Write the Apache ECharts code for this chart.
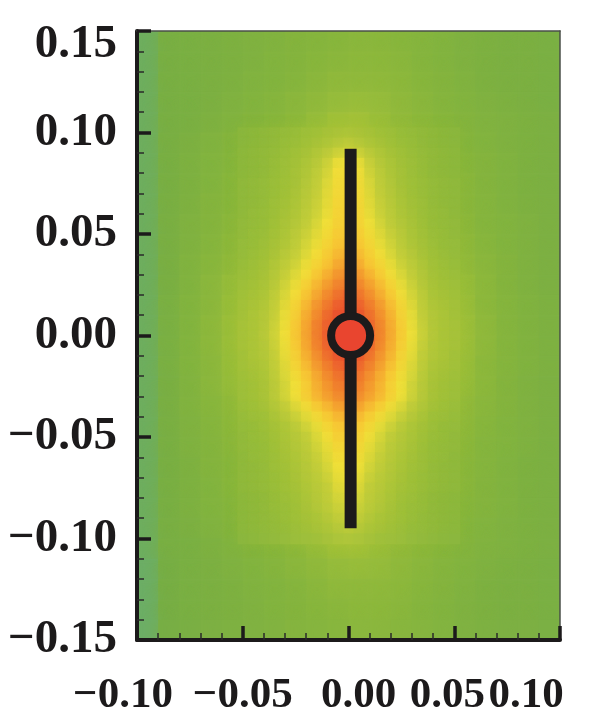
<!DOCTYPE html>
<html><head><meta charset="utf-8">
<script src="https://cdn.jsdelivr.net/npm/echarts@6/dist/echarts.min.js"></script>
<style>html,body{margin:0;padding:0;background:#fff}#c{width:614px;height:715px}</style>
</head><body><div id="c"></div>
<script>
// ---- tick labels ----
const xTickLabels = ['\u22120.10', '\u22120.05', '0.00', '0.05', '0.10'];
const yTickLabels = ['\u22120.15', '\u22120.10', '\u22120.05', '0.00', '0.05', '0.10', '0.15'];

// ---- coarse field (cell centres every 0.01) ----
const xCoarse = [-0.095,-0.085,-0.075,-0.065,-0.055,-0.045,-0.035,-0.025,-0.015,-0.005,0.005,0.015,0.025,0.035,0.045,0.055,0.065,0.075,0.085,0.095];
const yCoarse = [0.145,0.135,0.125,0.115,0.105,0.095,0.085,0.075,0.065,0.055,0.045,0.035,0.025,0.015,0.005,-0.005,-0.015,-0.025,-0.035,-0.045,-0.055,-0.065,-0.075,-0.085,-0.095,-0.105,-0.115,-0.125,-0.135,-0.145];
const coarseField = [
[6,11,12,13,14,15,16,18,19,20,21,21,20,19,17,15,14,13,13,12],
[6,11,12,13,14,15,17,18,20,21,22,22,21,19,17,15,14,13,13,12],
[6,11,12,13,14,16,17,19,21,23,23,23,22,20,18,16,14,13,13,12],
[6,11,12,13,15,17,19,21,23,25,26,25,23,21,19,17,15,14,13,12],
[6,11,12,14,16,18,20,22,25,29,30,27,24,22,20,18,16,15,14,13],
[6,11,13,16,18,20,23,26,29,33,33,29,26,23,21,19,17,15,14,13],
[6,11,14,17,19,21,25,29,35,48,48,35,29,25,22,20,18,16,14,13],
[6,11,14,17,20,22,26,30,38,52,52,38,30,26,23,21,18,16,14,13],
[6,11,14,18,20,23,27,32,40,54,54,40,32,27,24,21,19,16,14,13],
[6,11,15,18,21,24,28,34,44,58,58,44,34,28,25,22,19,17,15,13],
[6,11,15,19,22,25,30,37,48,63,63,48,37,30,26,23,20,17,15,13],
[6,11,16,20,23,27,33,42,55,71,71,55,42,33,28,24,21,18,15,13],
[6,11,16,21,25,29,37,48,64,82,82,64,48,37,30,26,22,18,15,13],
[6,12,17,21,26,30,40,53,72,90,90,72,53,40,31,27,22,19,16,14],
[6,12,17,22,27,32,42,56,76,95,95,76,56,42,33,28,23,19,16,14],
[6,12,17,22,27,32,42,56,76,95,95,76,56,42,33,28,23,19,16,14],
[6,12,17,21,26,30,40,53,72,90,90,72,53,40,31,27,22,19,16,14],
[6,11,16,21,25,29,37,48,64,82,82,64,48,37,30,26,22,18,15,13],
[6,11,16,20,23,27,34,43,57,74,74,57,43,34,28,24,21,18,15,13],
[6,11,15,19,22,25,30,37,47,62,62,47,37,30,26,23,20,17,15,13],
[6,11,15,18,21,24,28,34,43,56,56,43,34,28,25,22,19,17,15,13],
[6,11,14,18,20,23,27,32,39,51,51,39,32,27,24,21,19,16,14,13],
[6,11,14,17,20,22,26,30,36,47,47,36,30,26,23,21,18,16,14,13],
[6,11,14,17,19,21,25,28,33,43,43,33,28,25,22,20,18,16,14,13],
[6,11,13,16,18,20,23,26,29,36,36,29,26,23,21,19,17,15,14,13],
[6,11,12,14,16,18,20,22,25,29,30,27,24,22,20,18,16,15,14,13],
[5,10,12,13,15,17,19,21,23,25,26,25,23,21,19,17,15,14,13,12],
[5,10,12,13,14,16,17,19,21,23,23,23,22,20,18,16,14,13,13,12],
[5,10,12,13,14,15,17,18,20,21,22,22,21,19,17,15,14,13,13,12],
[5,10,11,13,14,15,16,18,19,20,21,21,20,19,17,15,14,13,13,12]
];

// ---- fine field around the source (cell centres every 0.005) ----
const xFine = [-0.05,-0.045,-0.04,-0.035,-0.03,-0.025,-0.02,-0.015,-0.01,-0.005,0,0.005,0.01,0.015,0.02,0.025,0.03,0.035,0.04,0.045,0.05];
const yFine = [0.1,0.095,0.09,0.085,0.08,0.075,0.07,0.065,0.06,0.055,0.05,0.045,0.04,0.035,0.03,0.025,0.02,0.015,0.01,0.005,0,-0.005,-0.01,-0.015,-0.02,-0.025,-0.03,-0.035,-0.04,-0.045,-0.05,-0.055,-0.06,-0.065,-0.07,-0.075,-0.08,-0.085,-0.09,-0.095,-0.1];
const fineField = [
[21,22,23,24,25,26,28,29,31,32,33,32,31,29,28,26,25,24,23,22,21],
[21,22,23,24,26,27,29,31,33,35,37,35,33,31,29,27,26,24,23,22,21],
[22,23,24,25,27,29,31,34,37,41,44,41,37,34,31,29,27,25,24,23,22],
[22,23,24,26,28,30,33,36,41,48,50,48,41,36,33,30,28,26,24,23,22],
[22,23,24,26,28,31,34,38,43,51,53,51,43,38,34,31,28,26,24,23,22],
[23,24,25,27,29,31,35,39,45,52,54,52,45,39,35,31,29,27,25,24,23],
[23,24,25,27,29,32,36,40,46,53,55,53,46,40,36,32,29,27,25,24,23],
[23,24,25,28,30,33,37,41,47,54,56,54,47,41,37,33,30,28,25,24,23],
[23,25,26,28,31,34,38,42,48,55,57,55,48,42,38,34,31,28,26,25,23],
[24,25,26,29,32,35,39,44,50,56,58,56,50,44,39,35,32,29,26,25,24],
[24,26,27,30,33,37,41,46,52,58,60,58,52,46,41,37,33,30,27,26,24],
[25,26,28,31,34,38,43,48,54,60,62,60,54,48,43,38,34,31,28,26,25],
[25,27,29,32,36,40,45,51,57,63,66,63,57,51,45,40,36,32,29,27,25],
[26,28,30,34,38,42,48,54,60,67,70,67,60,54,48,42,38,34,30,28,26],
[27,29,31,35,40,45,51,58,65,72,75,72,65,58,51,45,40,35,31,29,27],
[28,30,32,36,42,48,55,63,70,77,80,77,70,63,55,48,42,36,32,30,28],
[29,31,33,38,44,51,59,67,75,82,86,82,75,67,59,51,44,38,33,31,29],
[30,32,34,39,46,54,63,72,80,87,91,87,80,72,63,54,46,39,34,32,30],
[30,33,35,40,48,56,66,75,84,92,96,92,84,75,66,56,48,40,35,33,30],
[31,33,35,41,49,58,68,78,87,95,99,95,87,78,68,58,49,41,35,33,31],
[31,33,36,42,50,59,69,79,88,96,100,96,88,79,69,59,50,42,36,33,31],
[31,33,35,41,49,58,68,78,87,95,99,95,87,78,68,58,49,41,35,33,31],
[30,33,35,40,48,56,66,75,84,92,96,92,84,75,66,56,48,40,35,33,30],
[30,32,34,39,46,54,63,72,80,87,91,87,80,72,63,54,46,39,34,32,30],
[29,31,33,38,45,52,60,68,76,83,87,83,76,68,60,52,45,38,33,31,29],
[28,30,32,37,43,50,57,66,73,80,83,80,73,66,57,50,43,37,32,30,28],
[28,30,32,37,43,50,57,65,71,77,80,77,71,65,57,50,43,37,32,30,28],
[27,29,31,35,40,46,52,59,65,71,74,71,65,59,52,46,40,35,31,29,27],
[26,28,29,33,37,42,47,53,59,65,68,65,59,53,47,42,37,33,29,28,26],
[25,26,28,31,34,38,43,48,54,60,63,60,54,48,43,38,34,31,28,26,25],
[24,26,27,30,33,36,40,45,51,57,59,57,51,45,40,36,33,30,27,26,24],
[24,25,26,29,32,35,38,43,48,54,56,54,48,43,38,35,32,29,26,25,24],
[23,25,26,28,31,34,37,41,46,52,54,52,46,41,37,34,31,28,26,25,23],
[23,24,25,28,30,33,36,40,44,50,52,50,44,40,36,33,30,28,25,24,23],
[23,24,25,27,29,32,35,38,42,48,50,48,42,38,35,32,29,27,25,24,23],
[23,24,25,27,29,31,34,37,40,46,48,46,40,37,34,31,29,27,25,24,23],
[22,23,24,26,28,30,33,36,39,44,46,44,39,36,33,30,28,26,24,23,22],
[22,23,24,26,27,29,32,35,38,42,44,42,38,35,32,29,27,26,24,23,22],
[22,23,24,25,27,29,31,33,36,40,42,40,36,33,31,29,27,25,24,23,22],
[22,23,24,25,26,28,30,32,34,37,39,37,34,32,30,28,26,25,24,23,22],
[21,22,23,24,25,27,28,29,31,33,34,33,31,29,28,27,25,24,23,22,21]
];

// ---- conductor (vertical bar) and source (circle) ----
const stemX = [0.001, 0.001];
const stemY = [0.092, -0.095];
const sourceX = [0.001];
const sourceY = [0];

// ---- build data ----
function cells(xs, ys, rows) {
  const out = [];
  for (let r = 0; r < ys.length; r++)
    for (let c = 0; c < xs.length; c++) out.push([xs[c], ys[r], rows[r][c]]);
  return out;
}
const coarseData = cells(xCoarse, yCoarse, coarseField);
const fineData = cells(xFine, yFine, fineField);

function cellRenderer(hx, hy, blur) {
  return function (params, api) {
    const x = api.value(0), y = api.value(1);
    const a = api.coord([x - hx, y + hy]);
    const b = api.coord([x + hx, y - hy]);
    const col = api.visual('color');
    return {
      type: 'rect',
      shape: { x: a[0], y: a[1], width: b[0] - a[0] + 0.7, height: b[1] - a[1] + 0.7 },
      style: { fill: col, shadowBlur: blur, shadowColor: col }
    };
  };
}

const FONT = "'Liberation Serif', 'Times New Roman', serif";
const INK = '#1c1a1b';
const xShift = [{ padding: [0, 28, 0, 0] }, { padding: 0 }, { padding: [0, 0, 0, 20] }, { padding: [0, 14, 0, 0] }, { padding: [0, 68, 0, 0] }];
const xRich = {};
xShift.forEach((s, i) => { xRich['s' + i] = Object.assign({ fontFamily: FONT, fontWeight: 'bold', fontSize: 43, color: INK, lineHeight: 43 }, s); });
const yRich = {
  n: { fontFamily: FONT, fontWeight: 'bold', fontSize: 47, color: INK, lineHeight: 47 },
  t: { fontFamily: FONT, fontWeight: 'bold', fontSize: 47, color: INK, lineHeight: 47, padding: [28, 0, 0, 0] }
};
const gridBox = { left: 137, right: 54, top: 31, bottom: 75, containLabel: false, outerBoundsMode: 'none' };

const chart = echarts.init(document.getElementById('c'), null, { renderer: 'canvas' });
chart.setOption({
  animation: false,
  backgroundColor: '#ffffff',
  grid: [Object.assign({}, gridBox), Object.assign({}, gridBox)],
  visualMap: {
    show: false, type: 'continuous', min: 0, max: 100, dimension: 2, seriesIndex: [0, 1],
    inRange: { color: ['#62ae86', '#78ae45', '#88b63e', '#a3c13b', '#c2cd3c', '#f0e03b', '#f7c837', '#f4a332', '#f07f30', '#eb5a31', '#e8452f'] }
  },
  xAxis: [{
    gridIndex: 0, type: 'value', position: 'bottom', min: -0.1, max: 0.1, interval: 0.05, z: 10,
    axisLine: { show: true, onZero: false, lineStyle: { color: INK, width: 4 } },
    axisTick: { show: true, inside: true, length: 14, lineStyle: { color: INK, width: 3.5 } },
    minorTick: { show: true, splitNumber: 5, length: 7, lineStyle: { color: '#2a2a2a', width: 1.5 } },
    splitLine: { show: false }, axisLabel: { show: false }
  }, {
    gridIndex: 0, type: 'value', position: 'top', min: -0.1, max: 0.1, z: 10,
    axisLine: { show: true, onZero: false, lineStyle: { color: '#4a4f48', width: 1.5 } },
    axisTick: { show: false }, axisLabel: { show: false }, splitLine: { show: false }
  }, {
    gridIndex: 1, type: 'category', position: 'bottom', data: xTickLabels, boundaryGap: false, z: 10,
    axisLine: { show: false }, axisTick: { show: false }, splitLine: { show: false },
    axisLabel: {
      interval: 0, margin: 34, color: INK, fontFamily: FONT, fontWeight: 'bold', fontSize: 43,
      formatter: (v, i) => '{s' + i + '|' + v + '}', rich: xRich
    }
  }],
  yAxis: [{
    gridIndex: 0, type: 'value', position: 'left', min: -0.15, max: 0.15, interval: 0.05, z: 10,
    axisLine: { show: true, onZero: false, lineStyle: { color: INK, width: 4 } },
    axisTick: { show: true, inside: true, length: 14, lineStyle: { color: INK, width: 3.5 } },
    minorTick: { show: true, splitNumber: 5, length: 7, lineStyle: { color: '#2a2a2a', width: 1.5 } },
    splitLine: { show: false },
    axisLabel: {
      margin: 20, color: INK, fontFamily: FONT, fontWeight: 'bold', fontSize: 47,
      showMinLabel: true, showMaxLabel: true,
      formatter: (v, i) => (i === yTickLabels.length - 1 ? '{t|' : '{n|') + yTickLabels[i] + '}', rich: yRich
    }
  }, {
    gridIndex: 1, type: 'value', position: 'right', min: -0.15, max: 0.15, z: 10,
    axisLine: { show: true, onZero: false, lineStyle: { color: '#4a4f48', width: 1.5 } },
    axisTick: { show: false }, axisLabel: { show: false }, splitLine: { show: false }
  }],
  series: [
    { type: 'custom', name: 'coarse', coordinateSystem: 'cartesian2d', xAxisIndex: 0, yAxisIndex: 0, silent: true, z: 1, clip: true,
      renderItem: cellRenderer((xCoarse[1] - xCoarse[0]) / 2, (yCoarse[0] - yCoarse[1]) / 2, 16),
      encode: { x: 0, y: 1 }, data: coarseData },
    { type: 'custom', name: 'fine', coordinateSystem: 'cartesian2d', xAxisIndex: 0, yAxisIndex: 0, silent: true, z: 2, clip: true,
      renderItem: cellRenderer((xFine[1] - xFine[0]) / 2, (yFine[0] - yFine[1]) / 2, 12),
      encode: { x: 0, y: 1 }, data: fineData },
    { type: 'line', name: 'stem', xAxisIndex: 0, yAxisIndex: 0, z: 5, symbol: 'none', silent: true,
      lineStyle: { color: INK, width: 12, cap: 'butt' },
      data: stemX.map((x, i) => [x, stemY[i]]) },
    { type: 'scatter', name: 'source', xAxisIndex: 0, yAxisIndex: 0, z: 6, silent: true, symbol: 'circle', symbolSize: 39,
      itemStyle: { color: '#e9452f', borderColor: INK, borderWidth: 8, opacity: 1 },
      data: sourceX.map((x, i) => [x, sourceY[i]]) }
  ]
});
</script>
</body></html>
